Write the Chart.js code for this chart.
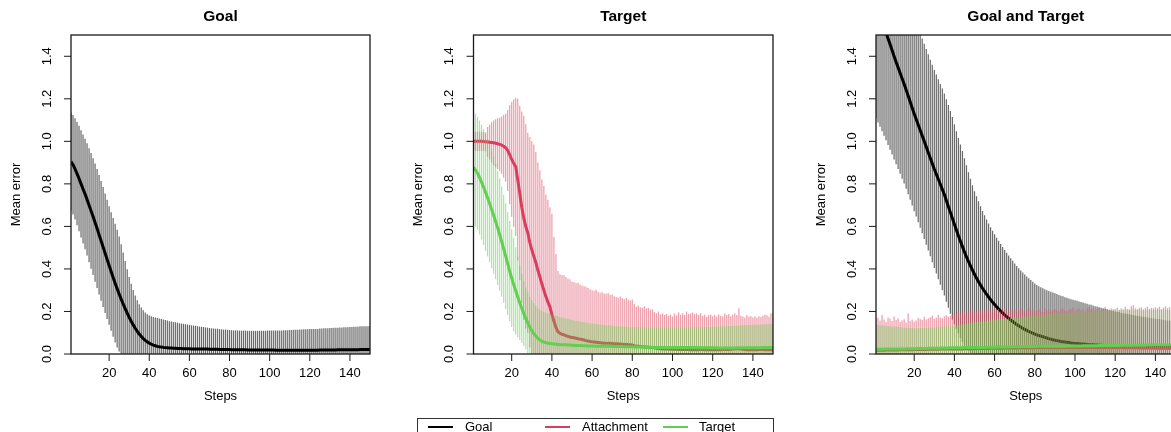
<!DOCTYPE html>
<html><head><meta charset="utf-8">
<script src="https://cdn.jsdelivr.net/npm/chart.js@4.4.1/dist/chart.umd.min.js"></script>
<style>
html,body{margin:0;padding:0;background:#fff;overflow:hidden;width:1171px;height:432px;}
#wrap{position:relative;width:1171px;height:432px;overflow:hidden;background:#fff;}
canvas{position:absolute;top:0;}
#legend{position:absolute;left:417px;top:418px;width:357px;height:40px;border:1px solid #333;box-sizing:border-box;font:13px "Liberation Sans",Arial,sans-serif;color:#000;}
.li{position:absolute;top:7px;height:2px;width:25px;}
.lt{position:absolute;top:0;line-height:16px;white-space:nowrap;}
</style></head><body>
<div id="wrap">
<canvas id="c1" width="402" height="432" style="left:0px;width:402px;height:432px"></canvas>
<canvas id="c2" width="402" height="432" style="left:402px;width:402px;height:432px"></canvas>
<canvas id="c3" width="402" height="432" style="left:805px;width:402px;height:432px"></canvas>
<div id="legend"></div>
</div>
<script>
// ---- categories & ticks ----
const steps = Array.from({length:150}, (_, i) => i + 1);
const xTickValues = [20, 40, 60, 80, 100, 120, 140];
const yTickValues = [0, 0.2, 0.4, 0.6, 0.8, 1.0, 1.2, 1.4];
const yTickLabels = ['0.0','0.2','0.4','0.6','0.8','1.0','1.2','1.4'];
const panelTitles = ['Goal', 'Target', 'Goal and Target'];
const legendLabels = ['Goal', 'Attachment', 'Target'];

// ---- Panel 1: Goal ----
const goalP1Mean = [
.905,.89,.87,.848,.825,.80,.776,.752,.727,.70,
.673,.646,.618,.59,.561,.532,.503,.474,.445,.416,
.388,.36,.333,.307,.282,.258,.235,.213,.192,.172,
.154,.137,.121,.107,.094,.083,.073,.064,.057,.051,
.046,.042,.039,.036,.034,.033,.031,.030,.029,.028,
.028,.027,.027,.026,.026,.026,.025,.025,.025,.025,
.024,.024,.024,.024,.023,.023,.023,.023,.023,.022,
.022,.022,.022,.022,.021,.021,.021,.021,.021,.021,
.02,.02,.02,.02,.02,.02,.02,.02,.019,.019,
.019,.019,.019,.019,.019,.019,.019,.019,.019,.019,
.019,.019,.018,.018,.018,.018,.018,.018,.018,.018,
.018,.018,.018,.018,.018,.018,.018,.018,.018,.018,
.018,.018,.018,.018,.019,.019,.019,.019,.019,.019,
.019,.019,.019,.02,.02,.02,.02,.02,.02,.02,
.02,.02,.02,.02,.021,.021,.021,.021,.021,.021];
const goalP1Sd = [
.23,.234,.238,.243,.248,.252,.256,.26,.264,.268,
.272,.275,.278,.28,.281,.282,.282,.281,.28,.279,
.279,.279,.279,.277,.27,.258,.242,.224,.206,.19,
.176,.164,.154,.146,.14,.136,.133,.131,.13,.13,
.131,.132,.133,.133,.133,.132,.131,.13,.128,.126,
.125,.123,.122,.121,.119,.118,.117,.115,.114,.112,
.111,.11,.109,.107,.106,.105,.104,.102,.101,.1,
.099,.098,.097,.097,.096,.095,.094,.094,.093,.092,
.092,.091,.091,.091,.09,.09,.09,.09,.09,.09,
.09,.09,.09,.09,.09,.09,.09,.09,.091,.091,
.091,.092,.092,.092,.093,.093,.094,.094,.094,.095,
.095,.096,.096,.096,.097,.097,.098,.098,.098,.099,
.099,.1,.1,.1,.101,.101,.102,.102,.102,.103,
.103,.104,.104,.104,.105,.105,.106,.106,.106,.107,
.107,.108,.108,.108,.109,.109,.11,.11,.11,.111];

// ---- Panel 2: Target ----
const attP2Mean = [
1.0,1.0,1.0,1.0,1.0,.999,.998,.997,.996,.995,
.993,.991,.989,.986,.982,.977,.97,.957,.937,.915,
.897,.88,.82,.757,.69,.64,.60,.57,.525,.49,
.46,.43,.395,.364,.33,.30,.27,.245,.223,.185,
.155,.125,.105,.097,.093,.09,.086,.083,.08,.078,
.076,.074,.072,.07,.068,.066,.063,.061,.059,.057,
.056,.055,.054,.053,.052,.051,.051,.05,.05,.049,
.048,.048,.047,.047,.046,.045,.045,.044,.043,.042,
.039,.037,.036,.035,.034,.033,.033,.032,.031,.031,
.029,.027,.026,.025,.024,.024,.023,.023,.022,.022,
.022,.022,.021,.021,.021,.021,.021,.021,.02,.02,
.02,.02,.02,.021,.021,.02,.02,.02,.02,.02,
.02,.02,.02,.02,.021,.021,.021,.021,.022,.023,
.024,.025,.025,.024,.022,.021,.02,.02,.02,.02,
.02,.02,.021,.021,.021,.02,.02,.02,.02,.02];
const attP2Sd = [
.045,.045,.045,.045,.045,.045,.045,.07,.082,.095,
.105,.113,.12,.125,.135,.148,.16,.19,.233,.27,
.30,.325,.38,.41,.45,.48,.48,.47,.495,.51,
.525,.52,.505,.50,.49,.49,.48,.48,.467,.475,
.395,.345,.285,.278,.279,.28,.276,.272,.27,.262,
.262,.259,.263,.257,.254,.252,.253,.249,.246,.243,
.242,.247,.238,.235,.238,.234,.232,.237,.228,.231,
.224,.22,.218,.223,.216,.213,.218,.211,.209,.214,
.196,.185,.192,.185,.184,.192,.181,.184,.177,.179,
.169,.165,.174,.161,.166,.159,.165,.157,.163,.154,
.168,.16,.175,.164,.171,.162,.179,.167,.17,.175,
.168,.17,.163,.171,.159,.165,.155,.162,.166,.158,
.163,.156,.166,.16,.157,.169,.162,.167,.156,.162,
.166,.158,.19,.156,.154,.151,.162,.155,.158,.152,
.156,.15,.157,.153,.159,.166,.162,.155,.172,.173];
const tarP2Mean = [
.877,.865,.85,.83,.808,.785,.76,.735,.708,.68,
.652,.623,.593,.562,.529,.495,.46,.425,.39,.357,
.326,.297,.268,.241,.215,.19,.167,.146,.127,.11,
.096,.084,.074,.066,.06,.056,.053,.051,.049,.048,
.047,.046,.045,.044,.044,.043,.043,.042,.042,.041,
.041,.04,.04,.04,.039,.039,.039,.038,.038,.038,
.038,.037,.037,.037,.037,.036,.036,.036,.036,.036,
.035,.035,.035,.035,.035,.034,.034,.034,.034,.034,
.033,.033,.033,.033,.033,.032,.032,.032,.032,.032,
.031,.031,.031,.031,.031,.031,.03,.03,.03,.03,
.03,.03,.03,.03,.03,.03,.03,.03,.03,.03,
.03,.03,.029,.029,.029,.029,.029,.029,.029,.029,
.029,.029,.028,.028,.028,.028,.028,.028,.028,.028,
.028,.028,.029,.029,.029,.029,.029,.029,.029,.029,
.029,.029,.029,.03,.03,.03,.03,.03,.03,.03];
const tarP2Sd = [
.264,.265,.266,.268,.27,.272,.274,.276,.277,.277,
.275,.272,.268,.264,.259,.254,.248,.242,.236,.23,
.22,.205,.19,.175,.162,.152,.146,.143,.142,.142,
.142,.142,.142,.142,.142,.142,.141,.14,.139,.138,
.136,.134,.132,.13,.128,.126,.124,.122,.12,.119,
.117,.116,.114,.113,.112,.111,.109,.108,.107,.106,
.105,.104,.103,.102,.101,.101,.1,.099,.099,.098,
.097,.097,.096,.096,.095,.095,.095,.094,.094,.094,
.094,.094,.094,.094,.094,.094,.094,.094,.094,.094,
.094,.094,.094,.095,.095,.095,.095,.095,.095,.095,
.095,.095,.095,.096,.096,.096,.096,.096,.096,.097,
.097,.097,.097,.098,.098,.098,.099,.099,.1,.1,
.1,.101,.102,.102,.103,.103,.104,.104,.104,.105,
.105,.105,.106,.106,.106,.107,.107,.107,.108,.108,
.108,.108,.109,.109,.109,.11,.11,.11,.111,.111];

// ---- Panel 3: Goal and Target ----
const goalP3Mean = [
1.64,1.614,1.588,1.562,1.536,1.51,1.483,1.456,1.428,1.40,
1.373,1.347,1.321,1.295,1.27,1.242,1.214,1.186,1.158,1.13,
1.104,1.078,1.052,1.026,1.0,.974,.948,.922,.896,.87,
.846,.822,.798,.774,.75,.722,.694,.666,.638,.61,
.583,.556,.53,.505,.48,.457,.435,.414,.394,.375,
.357,.34,.324,.309,.295,.281,.268,.256,.244,.233,
.222,.212,.202,.193,.184,.176,.168,.16,.153,.146,
.139,.133,.127,.121,.116,.111,.106,.102,.098,.094,
.09,.087,.084,.081,.078,.075,.072,.07,.067,.065,
.063,.061,.059,.058,.056,.055,.054,.052,.051,.05,
.049,.048,.047,.047,.046,.045,.044,.044,.043,.042,
.042,.041,.041,.04,.04,.039,.039,.038,.038,.037,
.037,.037,.036,.036,.036,.035,.035,.035,.034,.034,
.034,.034,.033,.033,.033,.033,.033,.032,.032,.032,
.032,.032,.031,.031,.031,.031,.031,.03,.03,.03];
const goalP3Sd = [
.53,.525,.52,.515,.51,.505,.50,.495,.49,.485,
.481,.477,.474,.471,.468,.465,.463,.461,.46,.459,
.458,.458,.458,.458,.459,.46,.461,.462,.464,.466,
.468,.47,.472,.474,.475,.476,.477,.477,.476,.47,
.465,.46,.455,.45,.44,.43,.42,.41,.40,.39,
.385,.378,.371,.364,.358,.352,.346,.34,.335,.33,
.325,.32,.315,.31,.305,.30,.295,.29,.285,.28,
.275,.27,.266,.262,.258,.254,.25,.246,.242,.238,
.234,.232,.23,.228,.226,.225,.224,.223,.222,.221,
.219,.217,.215,.213,.211,.209,.207,.205,.204,.203,
.201,.199,.197,.195,.193,.191,.189,.187,.185,.183,
.181,.179,.177,.175,.173,.171,.169,.167,.165,.163,
.161,.16,.158,.156,.155,.153,.152,.15,.149,.147,
.146,.145,.143,.142,.141,.139,.138,.137,.135,.134,
.133,.132,.131,.13,.128,.127,.126,.125,.124,.123];
const attP3Mean = [
.018,.018,.018,.018,.018,.019,.019,.019,.019,.019,
.019,.019,.02,.02,.02,.02,.02,.02,.02,.021,
.021,.021,.021,.021,.021,.021,.022,.022,.022,.022,
.022,.022,.023,.023,.023,.023,.023,.023,.024,.024,
.024,.024,.024,.024,.025,.025,.025,.025,.025,.025,
.026,.026,.026,.026,.026,.026,.026,.027,.027,.027,
.027,.027,.027,.027,.028,.028,.028,.028,.028,.028,
.028,.029,.029,.029,.029,.029,.029,.029,.029,.03,
.03,.03,.03,.03,.03,.03,.03,.03,.03,.03,
.03,.03,.03,.031,.031,.031,.031,.031,.031,.031,
.031,.031,.031,.031,.031,.031,.031,.031,.031,.031,
.031,.031,.031,.03,.03,.03,.03,.03,.03,.03,
.03,.03,.03,.029,.029,.029,.029,.029,.029,.029,
.029,.028,.028,.028,.028,.028,.028,.028,.028,.027,
.027,.027,.027,.027,.027,.027,.027,.027,.027,.027];
const attP3Sd = [
.147,.152,.14,.167,.144,.131,.153,.147,.136,.157,
.141,.149,.13,.138,.143,.128,.17,.135,.142,.131,
.137,.149,.144,.139,.154,.141,.146,.15,.158,.144,
.148,.163,.149,.145,.155,.159,.152,.157,.161,.166,
.161,.176,.166,.171,.18,.167,.175,.173,.185,.17,
.174,.184,.172,.179,.174,.182,.189,.173,.178,.191,
.178,.185,.173,.183,.187,.172,.177,.184,.175,.182,
.172,.179,.186,.176,.171,.181,.191,.176,.181,.17,
.175,.182,.17,.168,.185,.175,.18,.17,.178,.182,
.175,.17,.18,.184,.174,.169,.177,.181,.187,.174,
.179,.184,.174,.179,.169,.184,.189,.177,.181,.174,
.179,.184,.174,.182,.192,.18,.175,.185,.18,.182,
.188,.178,.185,.181,.193,.183,.181,.196,.201,.186,
.183,.19,.192,.182,.187,.194,.184,.19,.187,.193,
.188,.195,.185,.191,.198,.188,.193,.185,.191,.193];
const tarP3Mean = [
.022,.022,.022,.022,.023,.023,.023,.023,.023,.024,
.024,.024,.024,.024,.024,.025,.025,.025,.025,.025,
.025,.026,.026,.026,.026,.026,.027,.027,.027,.027,
.027,.027,.028,.028,.028,.028,.028,.029,.029,.029,
.029,.029,.029,.03,.03,.03,.03,.03,.03,.031,
.031,.031,.031,.031,.031,.032,.032,.032,.032,.032,
.032,.033,.033,.033,.033,.033,.033,.034,.034,.034,
.034,.034,.034,.035,.035,.035,.035,.035,.035,.035,
.036,.036,.036,.036,.036,.036,.036,.037,.037,.037,
.037,.037,.037,.037,.037,.038,.038,.038,.038,.038,
.038,.038,.038,.039,.039,.039,.039,.039,.039,.039,
.039,.04,.04,.04,.04,.04,.04,.04,.04,.04,
.04,.04,.041,.041,.041,.041,.041,.041,.041,.041,
.041,.041,.041,.041,.041,.042,.042,.042,.042,.042,
.042,.042,.042,.042,.042,.042,.042,.042,.042,.042];
const tarP3Sd = [
.115,.114,.113,.112,.111,.11,.108,.107,.106,.105,
.104,.103,.102,.101,.1,.099,.098,.097,.097,.096,
.096,.096,.096,.096,.096,.097,.097,.097,.098,.098,
.099,.099,.1,.1,.101,.102,.102,.103,.104,.105,
.106,.107,.108,.109,.11,.111,.113,.114,.115,.117,
.118,.119,.12,.121,.122,.123,.124,.125,.126,.128,
.129,.13,.13,.131,.132,.133,.134,.135,.135,.136,
.137,.137,.138,.139,.14,.14,.141,.142,.143,.144,
.145,.145,.146,.147,.148,.149,.15,.151,.152,.153,
.153,.154,.154,.155,.155,.156,.156,.157,.157,.158,
.158,.159,.159,.16,.161,.161,.162,.162,.163,.163,
.163,.164,.164,.164,.165,.165,.165,.165,.166,.166,
.166,.166,.166,.166,.166,.166,.166,.166,.166,.166,
.166,.166,.166,.166,.165,.165,.165,.165,.165,.165,
.165,.165,.165,.165,.165,.165,.165,.165,.165,.165];

// ---- styles ----
const LINE = {goal:'#000000', att:'#DB3D5C', tar:'#61D04F'};
const BAR = {goal:'rgba(0,0,0,0.58)', att:'rgba(223,83,107,0.56)', tar:'rgba(97,208,79,0.52)'};
const FONT = '"Liberation Sans", Arial, Helvetica, sans-serif';

function errorBars(mean, sd, color, order) {
  return {type:'bar', order, grouped:false, backgroundColor:color, borderWidth:0,
    maxBarThickness:1.25,
    data: steps.map((s, i) => ({x:s, y:[mean[i] - sd[i], mean[i] + sd[i]]}))};
}
function meanLine(mean, color, order) {
  return {type:'line', order, borderColor:color, borderWidth:3, pointRadius:0, fill:false, tension:0,
    borderJoinStyle:'round', data: steps.map((s, i) => ({x:s, y:mean[i]}))};
}

const rAxes = {
  id:'rAxes',
  afterDraw(chart, args, opts) {
    const {ctx, chartArea:a, scales:{x, y}} = chart;
    ctx.save();
    ctx.strokeStyle = '#1a1a1a'; ctx.lineWidth = 1.3;
    ctx.strokeRect(a.left, a.top, a.right - a.left, a.bottom - a.top);
    ctx.fillStyle = '#000';
    ctx.font = '13px ' + FONT;
    ctx.textAlign = 'center'; ctx.textBaseline = 'middle';
    ctx.lineWidth = 1;
    x.ticks.forEach(t => {
      const px = x.getPixelForValue(t.value);
      ctx.beginPath(); ctx.moveTo(px, a.bottom); ctx.lineTo(px, a.bottom + 7); ctx.stroke();
      ctx.fillText(String(t.value), px, a.bottom + 19);
    });
    y.ticks.forEach((t, i) => {
      const py = y.getPixelForValue(t.value);
      ctx.beginPath(); ctx.moveTo(a.left - 7, py); ctx.lineTo(a.left, py); ctx.stroke();
      ctx.save(); ctx.translate(a.left - 24, py); ctx.rotate(-Math.PI / 2);
      ctx.fillText(yTickLabels[yTickValues.indexOf(t.value)], 0, 0); ctx.restore();
    });
    const cx = (a.left + a.right) / 2, cy = (a.top + a.bottom) / 2;
    ctx.fillText('Steps', cx, a.bottom + 42);
    ctx.save(); ctx.translate(a.left - 55, cy); ctx.rotate(-Math.PI / 2);
    ctx.fillText('Mean error', 0, 0); ctx.restore();
    ctx.font = 'bold 15.5px ' + FONT;
    ctx.fillText(opts.title, cx, a.top - 18);
    ctx.restore();
  }
};

function makePanel(id, title, datasets, padding) {
  return new Chart(document.getElementById(id), {
    type:'bar',
    data:{datasets},
    options:{
      responsive:false, animation:false, devicePixelRatio:1,
      layout:{padding},
      plugins:{legend:{display:false}, tooltip:{enabled:false}, rAxes:{title}},
      scales:{
        x:{type:'linear', min:1, max:150, offset:false, display:false,
           afterBuildTicks: s => { s.ticks = xTickValues.map(v => ({value:v})); }},
        y:{type:'linear', min:0, max:1.5, display:false,
           afterBuildTicks: s => { s.ticks = yTickValues.map(v => ({value:v})); }}
      }
    },
    plugins:[rAxes]
  });
}

makePanel('c1', panelTitles[0], [
  errorBars(goalP1Mean, goalP1Sd, BAR.goal, 2),
  meanLine(goalP1Mean, LINE.goal, 1)
], {left:71, right:32, top:35, bottom:78});

makePanel('c2', panelTitles[1], [
  errorBars(attP2Mean, attP2Sd, BAR.att, 4),
  meanLine(attP2Mean, LINE.att, 3),
  errorBars(tarP2Mean, tarP2Sd, BAR.tar, 2),
  meanLine(tarP2Mean, LINE.tar, 1)
], {left:71.5, right:31, top:35, bottom:78});

makePanel('c3', panelTitles[2], [
  errorBars(goalP3Mean, goalP3Sd, BAR.goal, 6),
  meanLine(goalP3Mean, LINE.goal, 5),
  errorBars(attP3Mean, attP3Sd, BAR.att, 4),
  meanLine(attP3Mean, LINE.att, 3),
  errorBars(tarP3Mean, tarP3Sd, BAR.tar, 2),
  meanLine(tarP3Mean, LINE.tar, 1)
], {left:71, right:31.5, top:35, bottom:78});

// legend
const legendColors = [LINE.goal, LINE.att, LINE.tar];
const lineLefts = [10, 127, 245], textLefts = [47, 164, 281];
const lg = document.getElementById('legend');
legendLabels.forEach((lab, i) => {
  const l = document.createElement('div'); l.className = 'li';
  l.style.left = lineLefts[i] + 'px'; l.style.background = legendColors[i]; lg.appendChild(l);
  const t = document.createElement('div'); t.className = 'lt';
  t.style.left = textLefts[i] + 'px'; t.textContent = lab; lg.appendChild(t);
});
</script>
</body></html>
